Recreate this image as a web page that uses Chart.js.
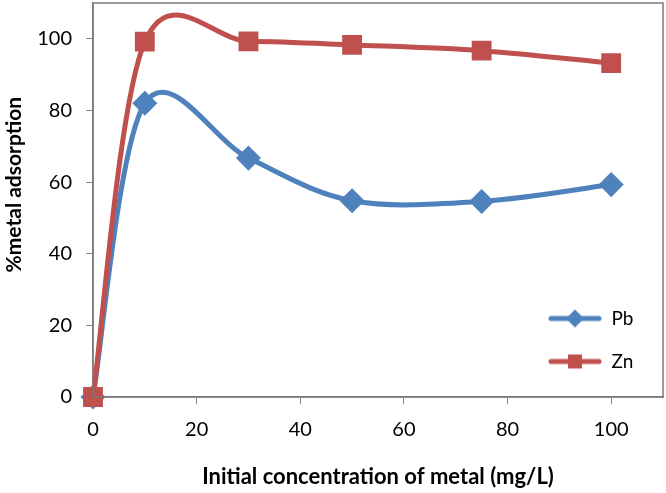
<!DOCTYPE html>
<html>
<head>
<meta charset="utf-8">
<script src="https://cdn.jsdelivr.net/npm/chart.js@4/dist/chart.umd.min.js"></script>
<style>
    html, body { margin: 0; padding: 0; background: #fff; }
    #wrap { width: 666px; height: 493px; }
</style>
</head>
<body>
<div id="wrap"><canvas id="chart" width="666" height="493"></canvas></div>
<script>
// Data
const concentrations = [0, 10, 30, 50, 75, 100];
const pbValues = [0, 82, 66.7, 54.8, 54.6, 59.3];
const znValues = [0, 99.2, 99.3, 98.3, 96.7, 93.2];
const xTicks = [0, 20, 40, 60, 80, 100];
const yTicks = [0, 20, 40, 60, 80, 100];

const BLUE = '#4f81bd';
const RED = '#c0504d';
const AXIS_GREY = '#868686';
const FONT = 'Lato';

function toPoints(values) {
    return concentrations.map((x, i) => ({ x: x, y: values[i] }));
}

// little line + marker image for the legend
function legendIcon(color, shape) {
    const c = document.createElement('canvas');
    c.width = 54;
    c.height = 20;
    const ctx = c.getContext('2d');
    ctx.strokeStyle = color;
    ctx.fillStyle = color;
    ctx.lineWidth = 5;
    ctx.lineCap = 'round';
    ctx.beginPath();
    ctx.moveTo(3, 10);
    ctx.lineTo(51, 10);
    ctx.stroke();
    ctx.beginPath();
    if (shape === 'diamond') {
        ctx.moveTo(27, 1);
        ctx.lineTo(36, 10);
        ctx.lineTo(27, 19);
        ctx.lineTo(18, 10);
    } else {
        ctx.rect(20, 3, 14, 14);
    }
    ctx.closePath();
    ctx.fill();
    return c;
}

const legendIcons = [legendIcon(BLUE, 'diamond'), legendIcon(RED, 'square')];

// Excel style smoothing: catmull-rom like control points (1/6 of neighbour span)
const excelSmooth = {
    id: 'excelSmooth',
    beforeDatasetsDraw(chart) {
        chart.getSortedVisibleDatasetMetas().forEach((meta) => {
            meta.dataset.updateControlPoints(chart.chartArea, 'x');
            const pts = meta.data;
            const n = pts.length;
            for (let i = 0; i < n; i++) {
                const prev = pts[Math.max(i - 1, 0)];
                const next = pts[Math.min(i + 1, n - 1)];
                const dx = (next.x - prev.x) / 6;
                const dy = (next.y - prev.y) / 6;
                pts[i].cp1x = pts[i].x - dx;
                pts[i].cp1y = pts[i].y - dy;
                pts[i].cp2x = pts[i].x + dx;
                pts[i].cp2y = pts[i].y + dy;
            }
        });
    }
};

const plotBorder = {
    id: 'plotBorder',
    beforeDraw(chart) {
        // move the legend into the lower right corner of the plot
        const lg = chart.legend;
        const area = chart.chartArea;
        lg.left = 548 - lg.options.labels.padding;
        lg.right = area.right;
        lg.top = 309 - lg.options.labels.padding;
        lg.bottom = area.bottom;
    },
    afterDraw(chart) {
        const { ctx, chartArea } = chart;
        ctx.save();
        ctx.strokeStyle = '#7a7a7a';
        ctx.lineWidth = 1.5;
        ctx.strokeRect(chartArea.left, chartArea.top,
            chartArea.right - chartArea.left, chartArea.bottom - chartArea.top);
        ctx.restore();
    }
};

function noPadding(scale) {
    scale.paddingTop = 0;
    scale.paddingBottom = 0;
    scale.paddingLeft = 0;
    scale.paddingRight = 0;
}

new Chart(document.getElementById('chart'), {
    type: 'line',
    data: {
        datasets: [{
            label: 'Pb',
            data: toPoints(pbValues),
            borderColor: BLUE,
            backgroundColor: BLUE,
            borderWidth: 5,
            pointStyle: 'rectRot',
            pointRadius: 9,
            pointHoverRadius: 9,
            tension: 0.5,
            clip: false,
            order: 1,
        }, {
            label: 'Zn',
            data: toPoints(znValues),
            borderColor: RED,
            backgroundColor: RED,
            borderWidth: 5,
            pointStyle: 'rect',
            pointRadius: 10.5,
            pointHoverRadius: 10.5,
            tension: 0.5,
            clip: false,
            order: 0,
        }]
    },
    options: {
        responsive: false,
        animation: false,
        layout: { autoPadding: false, padding: { top: 3, right: 3, left: 0, bottom: 0 } },
        plugins: {
            legend: {
                position: 'chartArea',
                align: 'start',
                labels: {
                    usePointStyle: true,
                    pointStyleWidth: 54,
                    padding: 24,
                    color: '#000',
                    font: { family: FONT, size: 19 },
                    sort: (a, b) => a.datasetIndex - b.datasetIndex,
                    generateLabels(chart) {
                        const items = Chart.defaults.plugins.legend.labels.generateLabels(chart);
                        items.forEach((item) => { item.pointStyle = legendIcons[item.datasetIndex]; });
                        return items;
                    }
                }
            },
            tooltip: { enabled: false },
        },
        scales: {
            x: {
                type: 'linear',
                min: 0,
                max: 110,
                afterBuildTicks(scale) {
                    scale.ticks = xTicks.map(v => ({ value: v }));
                },
                afterFit(scale) {
                    scale.height = 96;
                    noPadding(scale);
                },
                grid: { drawOnChartArea: false, color: AXIS_GREY, tickLength: 7 },
                border: { color: AXIS_GREY, width: 1.5 },
                ticks: { color: '#000', padding: 14, font: { family: FONT, size: 20 } },
                title: {
                    display: true,
                    text: 'Initial concentration of metal (mg/L)',
                    color: '#000',
                    font: { family: FONT, size: 22, weight: 'bold' },
                    padding: { top: 0, bottom: 3 },
                },
            },
            y: {
                min: 0,
                max: 110,
                afterBuildTicks(scale) {
                    scale.ticks = yTicks.map(v => ({ value: v }));
                },
                afterFit(scale) {
                    scale.width = 93;
                    noPadding(scale);
                },
                grid: { drawOnChartArea: false, color: AXIS_GREY, tickLength: 7 },
                border: { color: AXIS_GREY, width: 1.5 },
                ticks: { color: '#000', padding: 14, font: { family: FONT, size: 20 } },
                title: {
                    display: true,
                    text: '      %metal adsorption',
                    color: '#000',
                    font: { family: FONT, size: 21, weight: 'bold' },
                    padding: { top: 1.5, bottom: 0 },
                },
            },
        },
    },
    plugins: [excelSmooth, plotBorder],
});
</script>
</body>
</html>
